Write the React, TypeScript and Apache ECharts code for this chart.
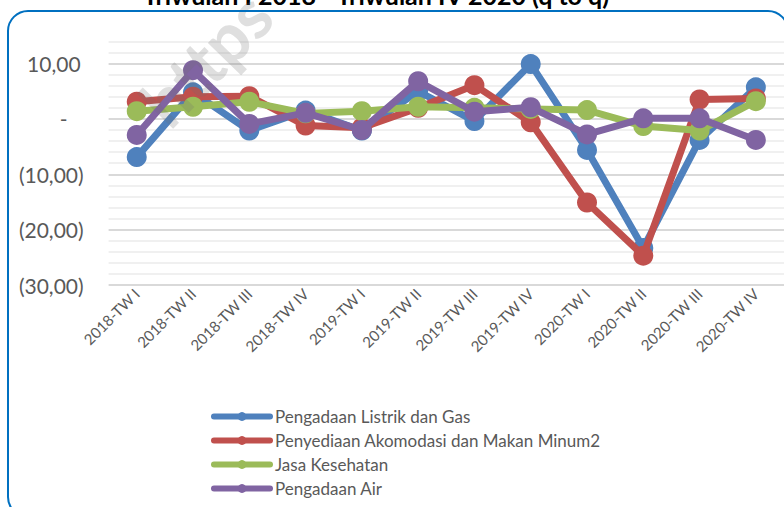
import React, { useEffect, useRef } from "react";
import * as echarts from "echarts";

const categories = [
  "2018-TW I", "2018-TW II", "2018-TW III", "2018-TW IV",
  "2019-TW I", "2019-TW II", "2019-TW III", "2019-TW IV",
  "2020-TW I", "2020-TW II", "2020-TW III", "2020-TW IV",
];
const listrikGas = [-6.9, 4.8, -2.1, 1.5, -2.1, 5.0, -0.4, 9.9, -5.6, -23.3, -3.8, 5.7];
const akomodasiMakanMinum = [3.1, 4.0, 4.1, -1.2, -1.6, 2.0, 6.1, -0.6, -15.1, -24.7, 3.5, 3.7];
const jasaKesehatan = [1.4, 2.2, 3.1, 1.0, 1.4, 2.2, 2.0, 1.8, 1.6, -1.3, -2.1, 3.2];
const pengadaanAir = [-2.9, 8.8, -0.9, 1.1, -2.0, 6.8, 1.3, 2.1, -2.8, 0.1, 0.1, -3.8];

const seriesNames = [
  "Pengadaan Listrik dan Gas",
  "Penyediaan Akomodasi dan Makan Minum2",
  "Jasa Kesehatan",
  "Pengadaan Air",
];
const seriesColors = ["#4F81BD", "#C0504D", "#9BBB59", "#8064A2"];
const titleText = "Triwulan I 2018 - Triwulan IV 2020 (q to q)";
const watermarkText = "https";

const FONT = "Lato, 'Noto Sans', sans-serif";

export default function App() {
  const ref = useRef<HTMLDivElement>(null);
  useEffect(() => {
    if (!ref.current) return;
    const chart = echarts.init(ref.current, null, { renderer: "svg" });
    const data = [listrikGas, akomodasiMakanMinum, jasaKesehatan, pengadaanAir];
    const fmt = (v: number) => {
      if (Math.abs(v % 10) > 1e-9) return "";
      if (v === 0) return "{d|-}";
      const s = Math.abs(v).toFixed(2).replace(".", ",");
      return v > 0 ? "{p|" + s + "}" : "{n|(" + s + ")}";
    };
    chart.setOption({
      animation: false,
      backgroundColor: "#ffffff",
      textStyle: { fontFamily: FONT },
      graphic: [
        {
          type: "rect",
          shape: { x: 8, y: 11, width: 780, height: 506, r: 20 },
          style: { fill: "none", stroke: "#0070C0", lineWidth: 2 },
          z: 100,
        },
        {
          type: "text",
          x: 376,
          y: -5,
          style: {
            text: titleText,
            font: "bold 25px " + FONT,
            fill: "#000000",
            align: "center",
            verticalAlign: "middle",
          },
        },
        {
          type: "text",
          x: 205,
          y: 58,
          rotation: 0.8,
          z: 50,
          style: {
            text: watermarkText,
            font: "bold 68px " + FONT,
            fill: "rgba(110,110,110,0.22)",
            align: "center",
            verticalAlign: "middle",
          },
        },
      ],
      grid: { left: 108.6, top: 41.4, width: 682, height: 243.6 },
      legend: {
        orient: "vertical",
        left: 206,
        top: 403,
        height: 120,
        itemWidth: 56,
        itemHeight: 11,
        itemGap: 7,
        data: seriesNames,
        textStyle: { color: "#595959", fontSize: 17, lineHeight: 17, fontFamily: FONT },
        lineStyle: { width: 6, cap: "round" },
      },
      xAxis: {
        type: "category",
        data: categories,
        boundaryGap: true,
        axisLine: { show: false },
        axisTick: { show: false },
        axisLabel: { rotate: 45, fontSize: 15, color: "#595959", margin: 6, interval: 0, fontFamily: FONT },
      },
      yAxis: {
        type: "value",
        min: -30,
        max: 14,
        interval: 2,
        axisLine: { show: false },
        axisTick: { show: false },
        axisLabel: {
          formatter: fmt,
          margin: 25,
          color: "#595959",
          fontSize: 21,
          fontFamily: FONT,
          rich: {
            p: { fontSize: 21, color: "#595959", fontFamily: FONT, padding: [0, 3, 0, 0] },
            n: { fontSize: 21, color: "#595959", fontFamily: FONT },
            d: { fontSize: 21, color: "#595959", fontFamily: FONT, padding: [0, 16, 0, 0] },
          },
        },
        splitLine: {
          lineStyle: {
            color: ["#D9D9D9", "#F0F0F0", "#F0F0F0", "#F0F0F0", "#F0F0F0"],
            width: 2,
          },
        },
      },
      series: data.map((d, i) => ({
        name: seriesNames[i],
        type: "line",
        data: d,
        symbol: "circle",
        symbolSize: 20,
        color: seriesColors[i],
        lineStyle: { width: 7, color: seriesColors[i] },
        itemStyle: { color: seriesColors[i] },
        z: 2 + i,
      })),
    });
    return () => chart.dispose();
  }, []);
  return <div ref={ref} style={{ width: 784, height: 507, position: "absolute", left: 0, top: 0 }} />;
}
